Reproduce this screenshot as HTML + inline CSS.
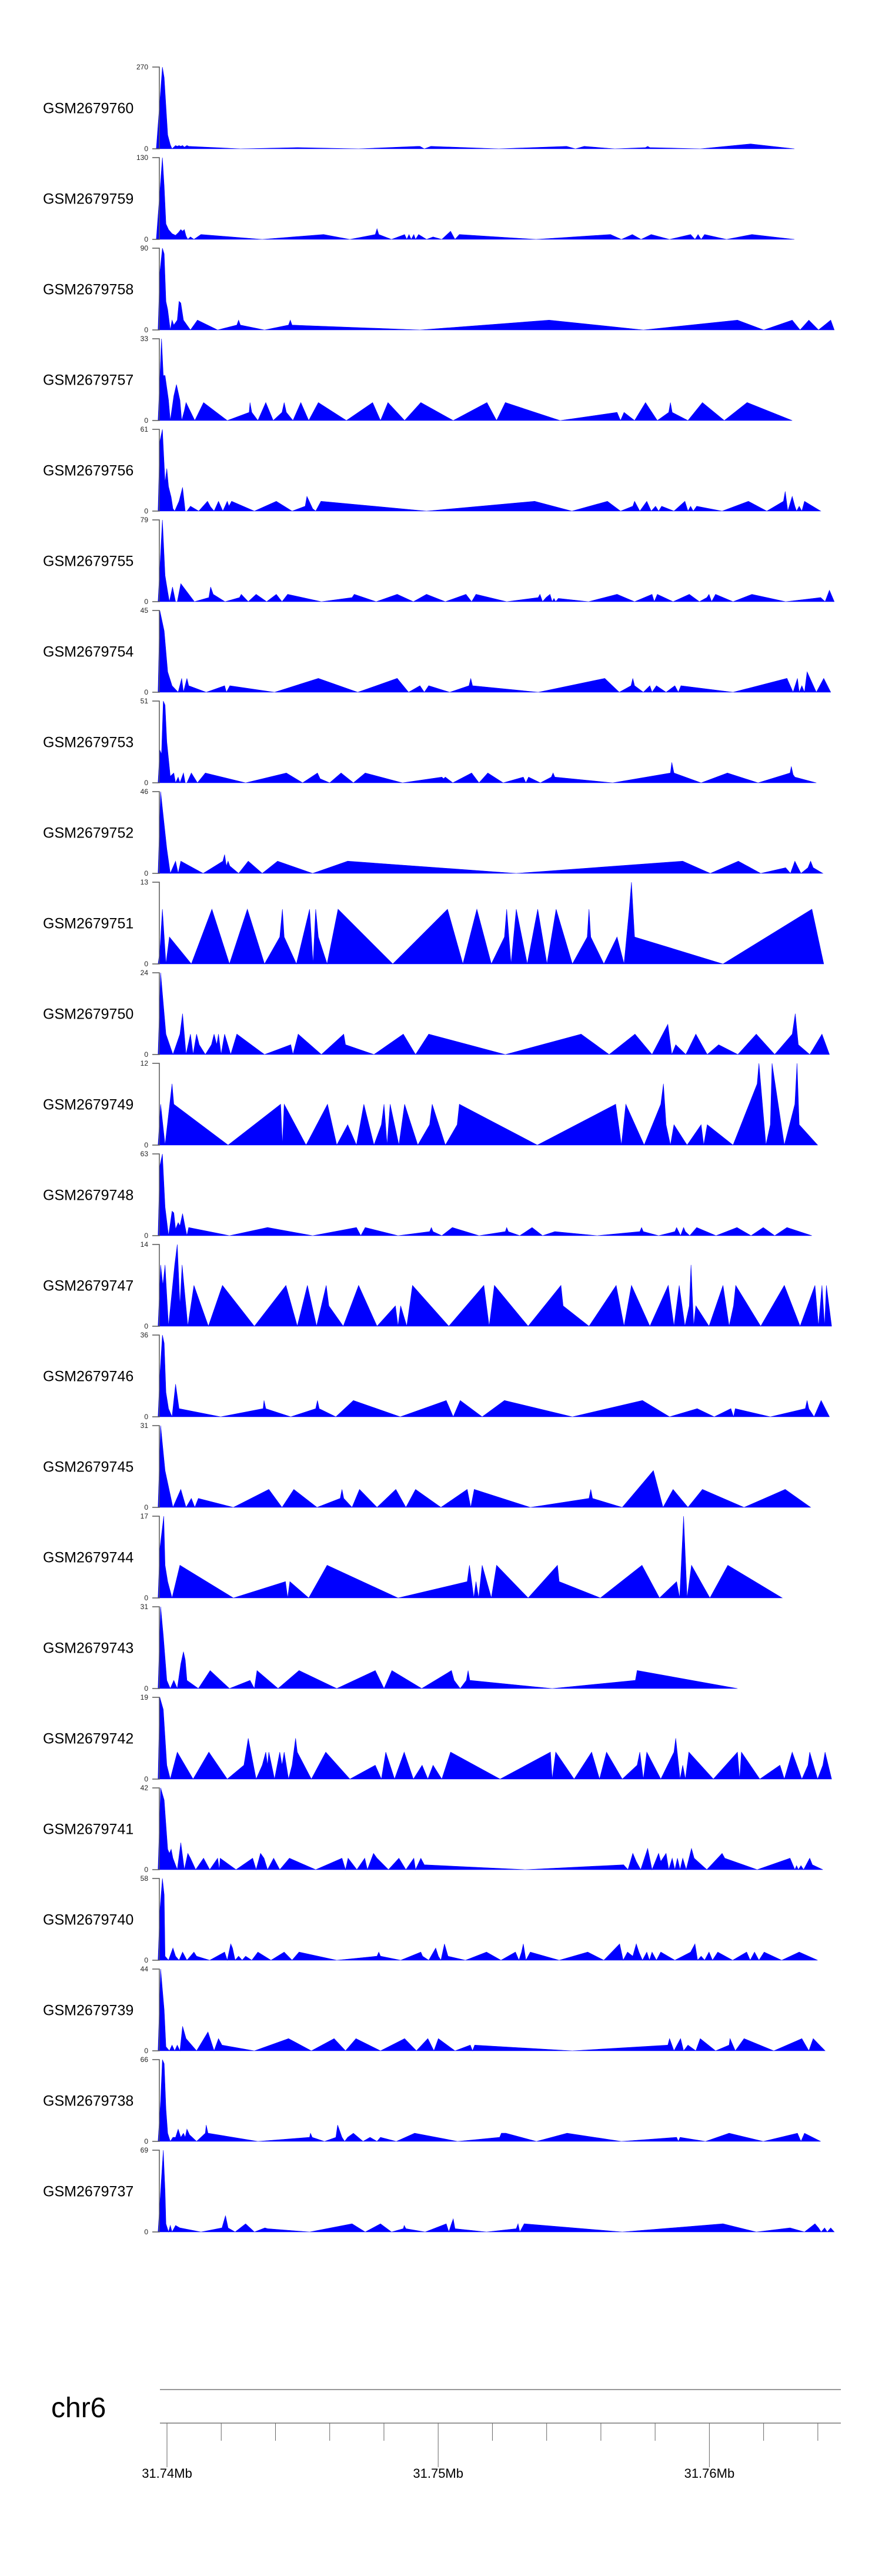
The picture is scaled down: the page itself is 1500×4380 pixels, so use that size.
<!DOCTYPE html>
<html><head><meta charset="utf-8"><style>
html,body{margin:0;padding:0;background:#fff;}
svg{display:block;}
</style></head><body>
<svg id="chart" width="1500" height="4380" viewBox="0 0 1500 4380" xmlns="http://www.w3.org/2000/svg">
<g id="tracks"></g>
<g id="ruler"></g>
</svg>
<script>
// ---- data ----
const sampleNames = ["GSM2679760","GSM2679759","GSM2679758","GSM2679757","GSM2679756","GSM2679755","GSM2679754","GSM2679753","GSM2679752","GSM2679751","GSM2679750","GSM2679749","GSM2679748","GSM2679747","GSM2679746","GSM2679745","GSM2679744","GSM2679743","GSM2679742","GSM2679741","GSM2679740","GSM2679739","GSM2679738","GSM2679737"];
const axisMax = [270,130,90,33,61,79,45,51,46,13,24,12,63,14,36,31,17,31,19,42,58,44,66,69];
const regionStartBp = 31739476;
const binBp = 16.15;
const genomeTicksMb = [31.740,31.742,31.744,31.746,31.748,31.750,31.752,31.754,31.756,31.758,31.760,31.762,31.764];
const genomeLabelsMb = [31.74,31.75,31.76];
// coverage per track: bins (position index) and signal as fraction of axis max
const bins = [];
const signal = [];
bins[0]=[8,22,26,34,40,44,52,56,60,64,68,72,78,82,200,330,470,605,610,620,635,790,945,965,985,1055,1125,1130,1135,1250,1365,1465];
signal[0]=[0,1,.87,.17,.05,0,.04,.03,.04,.03,.04,.02,.04,.03,0,.015,0,.03,.03,0,.03,0,.03,0,.03,0,.015,.03,.015,0,.06,0];
bins[1]=[8,22,26,30,36,44,52,58,64,68,72,76,80,86,94,110,250,390,450,508,512,516,545,575,580,585,590,596,600,607,625,640,660,680,690,700,875,1045,1070,1095,1115,1138,1180,1228,1238,1245,1252,1260,1310,1368,1465];
signal[1]=[0,1,.65,.19,.12,.07,.05,.08,.12,.1,.12,.04,0,.03,0,.06,0,.06,0,.06,.13,.06,0,.06,0,.06,0,.06,0,.06,0,.03,0,.1,0,.06,0,.06,0,.06,0,.06,0,.06,0,.06,0,.06,0,.06,0];
bins[2]=[12,16,22,26,30,34,40,44,48,56,60,64,70,86,102,148,192,196,200,255,310,314,318,610,905,1120,1335,1395,1460,1478,1498,1520,1548,1556];
signal[2]=[0,.7,1,.93,.35,.25,0,.12,.06,.12,.35,.33,.12,0,.12,0,.06,.12,.06,0,.06,.12,.06,0,.12,0,.12,0,.12,0,.12,0,.12,0];
bins[3]=[12,20,24,28,36,40,48,54,62,66,72,76,96,116,170,220,222,226,240,258,275,295,300,305,320,338,356,378,442,502,520,537,575,612,686,763,785,805,930,1060,1068,1076,1100,1125,1152,1178,1182,1186,1222,1255,1305,1357,1460];
signal[3]=[0,1,.55,.55,.25,0,.3,.44,.25,0,.12,.22,0,.22,0,.1,.22,.1,0,.22,0,.1,.22,.1,0,.22,0,.22,0,.22,0,.22,0,.22,0,.22,0,.22,0,.1,0,.1,0,.22,0,.1,.22,.1,0,.22,0,.22,0];
bins[4]=[12,16,22,28,32,36,42,46,50,60,68,74,78,86,105,125,132,140,150,160,170,174,180,232,282,318,348,352,365,372,384,625,872,957,1038,1068,1096,1100,1112,1128,1138,1148,1155,1162,1190,1215,1222,1228,1234,1242,1300,1360,1402,1440,1444,1450,1460,1466,1470,1476,1482,1488,1525];
signal[4]=[0,.85,1,.35,.52,.3,.17,.03,0,.12,.29,0,0,.06,0,.12,.05,0,.12,0,.12,.06,.12,0,.12,0,.06,.18,.03,0,.12,0,.12,0,.12,0,.06,.12,0,.12,0,.06,0,.06,0,.12,0,.06,0,.06,0,.12,0,.12,.24,0,.18,.06,0,.06,0,.12,0];
bins[5]=[12,22,28,34,38,45,52,56,64,95,128,132,138,165,198,202,218,236,260,282,295,308,385,455,460,510,558,595,625,668,715,728,738,808,880,884,890,898,907,912,916,920,926,995,1060,1100,1140,1145,1152,1188,1225,1248,1265,1270,1276,1285,1325,1368,1445,1525,1535,1545,1556];
signal[5]=[0,1,.32,.12,0,.18,0,0,.22,0,.05,.18,.09,0,.05,.09,0,.09,0,.09,0,.09,0,.05,.09,0,.09,0,.09,0,.09,0,.09,0,.05,.09,0,.05,.09,0,.04,0,.04,0,.09,0,.09,0,.09,0,.09,0,.05,.09,0,.09,0,.09,0,.05,0,.14,0];
bins[6]=[12,16,26,34,44,58,66,70,78,82,122,164,168,176,278,378,468,558,584,610,620,630,678,722,726,730,880,1032,1065,1092,1096,1100,1120,1135,1140,1150,1172,1192,1200,1206,1325,1448,1462,1472,1476,1482,1488,1494,1515,1532,1548];
signal[6]=[0,1,.75,.25,.08,0,.17,0,.17,.08,0,.08,0,.08,0,.17,0,.17,0,.08,0,.08,0,.08,.17,.08,0,.17,0,.08,.17,.08,0,.08,0,.08,0,.08,0,.08,0,.17,0,.17,0,.08,0,.25,0,.17,0];
bins[7]=[12,16,20,24,28,32,40,48,52,58,62,70,74,78,88,102,120,212,305,342,376,382,404,430,458,485,570,660,664,668,685,728,745,765,800,846,852,858,885,910,914,918,1050,1182,1185,1190,1252,1312,1382,1455,1458,1462,1466,1515];
signal[7]=[0,.4,.35,1,.95,.5,.08,.12,0,.07,0,.12,0,0,.12,0,.12,0,.12,0,.12,.05,0,.12,0,.12,0,.07,.05,.07,0,.12,0,.12,0,.07,0,.07,0,.07,.12,.07,0,.12,.25,.12,0,.12,0,.12,.2,.1,.07,0];
bins[8]=[12,18,32,40,52,58,64,115,160,164,168,172,176,196,218,250,285,365,445,830,1210,1273,1337,1388,1445,1456,1466,1480,1496,1502,1508,1530];
signal[8]=[0,1,.3,0,.15,0,.15,0,.15,.23,.09,.15,.09,0,.15,0,.15,0,.15,0,.15,0,.15,0,.07,0,.15,0,.07,.15,.07,0];
bins[9]=[12,16,22,30,38,88,135,175,216,255,290,296,300,328,358,366,372,378,398,423,548,673,708,740,773,803,808,818,830,855,879,900,921,958,992,996,1000,1030,1060,1076,1088,1093,1100,1302,1505,1532];
signal[9]=[0,.15,.67,0,.33,0,.67,0,.67,0,.33,.67,.33,0,.67,0,.67,.33,0,.67,0,.67,0,.67,0,.33,.67,0,.67,0,.67,0,.67,0,.33,.67,.33,0,.33,0,.67,1,.33,0,.67,0];
bins[10]=[12,18,30,46,62,68,76,86,92,100,106,120,134,140,146,150,156,164,178,192,255,315,320,332,385,436,440,505,572,600,630,805,978,1042,1101,1140,1176,1185,1194,1217,1240,1266,1292,1336,1378,1420,1460,1467,1474,1500,1528,1545];
signal[10]=[0,1,.25,0,.25,.5,0,.25,0,.25,.12,0,.12,.25,.12,.25,0,.25,0,.25,0,.12,0,.25,0,.25,.12,0,.25,0,.25,0,.25,0,.25,0,.37,0,.12,0,.25,0,.12,0,.25,0,.25,.5,.12,0,.25,0];
bins[11]=[12,18,28,44,48,172,292,296,300,350,399,420,445,465,482,505,522,528,535,542,562,575,605,632,638,668,695,700,878,1057,1070,1080,1122,1160,1166,1172,1182,1190,1220,1252,1258,1266,1325,1380,1384,1400,1410,1414,1442,1466,1471,1476,1518];
signal[11]=[0,.5,0,.75,.5,0,.5,0,.5,0,.5,0,.25,0,.5,0,.25,.5,0,.5,0,.5,0,.25,.5,0,.25,.5,0,.5,0,.5,0,.5,.75,.25,0,.25,0,.25,0,.25,0,.75,1,0,.25,1,0,.5,1,.25,0];
bins[12]=[12,16,22,28,36,44,48,52,58,62,68,74,78,82,175,262,365,465,475,485,560,632,636,640,660,684,745,805,808,812,838,866,890,918,1015,1112,1116,1120,1155,1192,1196,1205,1212,1216,1226,1242,1286,1334,1366,1394,1420,1448,1505];
signal[12]=[0,.85,1,.35,0,.3,.28,.08,.16,.12,.27,.1,0,.1,0,.1,0,.1,0,.1,0,.05,.1,.05,0,.1,0,.05,.1,.05,0,.1,0,.05,0,.05,.1,.05,0,.05,.1,0,.1,.05,0,.1,0,.1,0,.1,0,.1,0];
bins[13]=[12,18,23,28,36,50,56,62,67,80,94,127,159,232,304,330,353,374,396,402,435,470,512,554,560,566,580,593,676,756,768,780,857,932,937,996,1058,1076,1093,1135,1177,1190,1202,1215,1225,1229,1235,1240,1270,1302,1316,1326,1331,1388,1442,1478,1512,1520,1528,1534,1538,1550];
signal[13]=[0,.75,.5,.75,0,.75,1,.25,.75,0,.5,0,.5,0,.5,0,.5,0,.5,.25,0,.5,0,.25,0,.25,0,.5,0,.5,0,.5,0,.5,.25,0,.5,0,.5,0,.5,0,.5,0,.25,.75,0,.25,0,.5,0,.25,.5,0,.5,0,.5,0,.5,0,.5,0];
bins[14]=[12,16,22,26,30,36,44,52,60,155,252,254,258,315,372,376,380,418,458,565,670,686,702,752,803,958,1118,1180,1243,1282,1320,1326,1330,1410,1490,1494,1498,1510,1526,1545];
signal[14]=[0,.5,1,.9,.3,.1,0,.4,.1,0,.1,.2,.1,0,.1,.2,.1,0,.2,0,.2,0,.2,0,.2,0,.2,0,.1,0,.1,0,.1,0,.1,.2,.1,0,.2,0];
bins[15]=[12,18,28,46,64,76,88,96,104,184,265,295,322,375,428,432,436,455,472,512,555,578,600,658,718,726,734,862,996,1000,1004,1072,1143,1165,1188,1222,1255,1350,1444,1502];
signal[15]=[0,1,.45,0,.22,0,.11,0,.11,0,.22,0,.22,0,.11,.22,.11,0,.22,0,.22,0,.22,0,.22,0,.22,0,.11,.22,.11,0,.45,0,.22,0,.22,0,.22,0];
bins[16]=[12,16,25,28,34,44,62,184,303,308,313,356,398,560,718,723,733,738,744,752,773,785,857,924,928,1022,1117,1157,1196,1203,1212,1220,1230,1272,1313,1437];
signal[16]=[0,.6,1,.4,.2,0,.4,0,.2,0,.2,0,.4,0,.2,.4,0,.2,0,.4,0,.4,0,.4,.2,0,.4,0,.2,0,1,0,.4,0,.4,0];
bins[17]=[12,18,24,32,40,48,56,64,70,74,78,104,131,175,222,232,238,286,334,420,508,528,546,614,682,688,702,716,720,724,912,1102,1106,1335];
signal[17]=[0,1,.65,.1,0,.1,0,.3,.45,.35,.1,0,.22,0,.1,0,.22,0,.22,0,.22,0,.22,0,.22,.1,0,.1,.22,.1,0,.1,.22,0];
bins[18]=[12,16,24,32,40,56,92,128,170,208,218,236,250,258,262,265,278,290,295,300,310,318,326,330,362,395,450,508,522,532,552,574,595,615,628,640,660,680,793,908,912,920,962,1002,1020,1036,1072,1106,1112,1120,1128,1160,1190,1194,1204,1210,1216,1224,1280,1335,1340,1344,1386,1432,1442,1460,1482,1496,1500,1518,1530,1535,1550];
signal[18]=[0,1,.85,.17,0,.33,0,.33,0,.17,.5,0,.17,.33,.17,.33,0,.33,.17,.33,0,.17,.5,.33,0,.33,0,.17,0,.33,0,.33,0,.17,0,.17,0,.33,0,.33,0,.33,0,.33,0,.33,0,.17,.33,0,.33,0,.33,.5,0,.17,0,.33,0,.33,0,.33,0,.17,0,.33,0,.17,.33,0,.17,.33,0];
bins[19]=[12,18,26,34,38,42,46,56,64,72,80,86,98,116,130,148,152,154,190,228,236,246,254,262,276,290,312,372,432,440,446,466,484,490,504,512,538,562,578,596,600,612,620,850,1075,1085,1096,1104,1114,1130,1140,1155,1160,1172,1178,1186,1192,1198,1204,1210,1218,1230,1236,1265,1300,1306,1380,1455,1466,1470,1474,1480,1486,1500,1506,1530];
signal[19]=[0,1,.85,.25,.2,.25,.14,0,.33,0,.2,.14,0,.14,0,.14,0,.14,0,.14,0,.2,.14,0,.14,0,.14,0,.14,0,.14,0,.14,0,.2,.14,0,.14,0,.14,0,.14,.06,0,.06,0,.2,.1,0,.26,0,.2,.1,.2,0,.14,0,.14,0,.14,0,.26,.14,0,.2,.14,0,.14,0,.05,0,.05,0,.14,.06,0];
bins[20]=[12,16,22,26,28,36,46,52,60,68,78,86,94,100,130,164,170,178,182,188,196,204,212,226,240,270,300,318,334,420,512,516,520,566,612,616,630,646,652,658,666,674,714,762,795,828,836,842,846,852,862,928,993,1030,1066,1074,1084,1096,1104,1110,1118,1128,1134,1140,1150,1160,1192,1228,1238,1244,1252,1260,1270,1278,1290,1324,1356,1364,1374,1384,1396,1436,1476,1518];
signal[20]=[0,.6,1,.8,.05,0,.15,.05,0,.1,0,.05,.1,.05,0,.1,0,.2,.15,0,.05,0,.05,0,.1,0,.1,0,.1,0,.05,.1,.05,0,.1,.05,0,.15,.05,0,.2,.05,0,.1,0,.1,0,.1,.2,0,.1,0,.1,0,.2,0,.1,.05,.2,.1,0,.1,0,.1,0,.1,0,.1,.2,0,.05,0,.1,0,.1,0,.1,0,.1,0,.1,0,.1,0];
bins[21]=[12,18,26,30,38,44,50,56,62,68,76,100,126,140,150,158,232,310,362,414,440,464,520,575,602,628,642,652,690,725,730,735,958,1176,1180,1190,1205,1212,1222,1240,1250,1285,1316,1318,1330,1350,1418,1482,1498,1508,1535];
signal[21]=[0,1,.5,.05,0,.07,0,.07,0,.3,.15,0,.23,0,.15,.07,0,.15,0,.15,0,.15,0,.15,0,.15,0,.15,0,.07,0,.07,0,.07,.15,0,.15,0,.07,0,.15,0,.07,.15,0,.15,0,.15,0,.15,0];
bins[22]=[12,18,22,26,30,34,40,46,52,58,64,70,74,78,84,100,120,122,126,240,358,360,364,392,418,422,432,438,445,458,480,496,512,520,556,598,696,792,796,806,876,946,1070,1196,1200,1204,1262,1316,1394,1472,1480,1488,1525];
signal[22]=[0,.5,1,.95,.4,.1,0,.05,.05,.15,.05,.1,.05,.15,.08,0,.1,.2,.1,0,.05,.1,.05,0,.05,.2,.05,0,.05,.1,0,.05,0,.05,0,.1,0,.05,.1,.1,0,.1,0,.05,0,.05,0,.1,0,.1,0,.1,0];
bins[23]=[12,18,24,28,30,36,40,44,52,62,110,158,166,172,188,212,232,256,262,358,455,485,520,545,572,574,578,622,670,676,682,686,690,762,830,834,838,848,1072,1302,1378,1455,1488,1512,1520,1526,1534,1540,1548,1556];
signal[23]=[0,.5,1,.5,.1,0,.08,0,.08,.05,0,.05,.2,.05,0,.1,0,.05,.04,0,.1,0,.1,0,.04,.08,.04,0,.1,0,.1,.16,.04,0,.04,.1,0,.1,0,.1,0,.05,0,.1,.05,0,.05,0,.05,0];

// ---- layout / scales ----
const NS = "http://www.w3.org/2000/svg";
const trackTop0 = 114, trackPitch = 154, trackH = 139;
const axisX = 271;
function xOfBp(bp){ return 284 + (bp - 31740000) * 0.04612; }
function xOfBin(b){ return xOfBp(regionStartBp + b * binBp); }
function mk(tag, attrs, parent){
  const e = document.createElementNS(NS, tag);
  for (const k in attrs) e.setAttribute(k, attrs[k]);
  parent.appendChild(e);
  return e;
}
const gT = document.getElementById('tracks');
sampleNames.forEach((name, i) => {
  const top = trackTop0 + i * trackPitch, bot = top + trackH;
  const max = axisMax[i];
  const yOf = v => bot - (v / max) * trackH;
  const g = mk('g', {}, gT);
  
  
  const lab = mk('text', {x: 73, y: (top + bot) / 2 + 9, 'font-family': 'Liberation Sans, sans-serif', 'font-size': 25, fill: '#000'}, g);
  lab.textContent = name;
  
  
  const b = bins[i], s = signal[i];
  let d = 'M' + xOfBin(b[0]).toFixed(1) + ',' + bot;
  for (let k = 0; k < b.length; k++) d += 'L' + xOfBin(b[k]).toFixed(1) + ',' + yOf(s[k] * max).toFixed(1);
  d += 'L' + xOfBin(b[b.length - 1]).toFixed(1) + ',' + bot + 'Z';
  const area = mk('path', {d: d, fill: '#0000ff', stroke: '#0000ff', 'stroke-width': 0.6}, g);
  
  
  const ax = mk('path', {d: 'M' + (axisX - 12) + ',' + top + 'H' + axisX + 'V' + bot + 'H' + (axisX - 12), fill: 'none', stroke: '#555', 'stroke-width': 1.5}, g);
  
  
  const tMax = mk('text', {x: 252, y: top + 4, 'text-anchor': 'end', 'font-family': 'Liberation Sans, sans-serif', 'font-size': 12, fill: '#222'}, g);
  tMax.textContent = String(max);
  
  
  const t0 = mk('text', {x: 252, y: bot + 4, 'text-anchor': 'end', 'font-family': 'Liberation Sans, sans-serif', 'font-size': 12, fill: '#222'}, g);
  t0.textContent = '0';
  
  
});
// ---- genome ruler ----
const gR = document.getElementById('ruler');
const chr = mk('text', {x: 87, y: 4110, 'font-family': 'Liberation Sans Narrow, Liberation Sans, sans-serif', 'font-size': 48, fill: '#000'}, gR);
chr.textContent = 'chr6';


const l1 = mk('line', {x1: 272, x2: 1430, y1: 4063, y2: 4063, stroke: '#999', 'stroke-width': 2}, gR);


const l2 = mk('line', {x1: 272, x2: 1430, y1: 4120, y2: 4120, stroke: '#999', 'stroke-width': 2}, gR);


genomeTicksMb.forEach(mb => {
  const x = xOfBp(Math.round(mb * 1e6));
  const major = genomeLabelsMb.some(v => Math.abs(v - mb) < 1e-9);
  const t = mk('line', {x1: x, x2: x, y1: 4120, y2: major ? 4195 : 4150, stroke: '#666', 'stroke-width': 1}, gR);
  
  
});
genomeLabelsMb.forEach(mb => {
  const x = xOfBp(Math.round(mb * 1e6));
  const t = mk('text', {x: x, y: 4213, 'text-anchor': 'middle', 'font-family': 'Liberation Sans Narrow, Liberation Sans, sans-serif', 'font-size': 22, fill: '#000'}, gR);
  t.textContent = mb.toFixed(2) + 'Mb';
  
  
});
</script>
</body></html>
